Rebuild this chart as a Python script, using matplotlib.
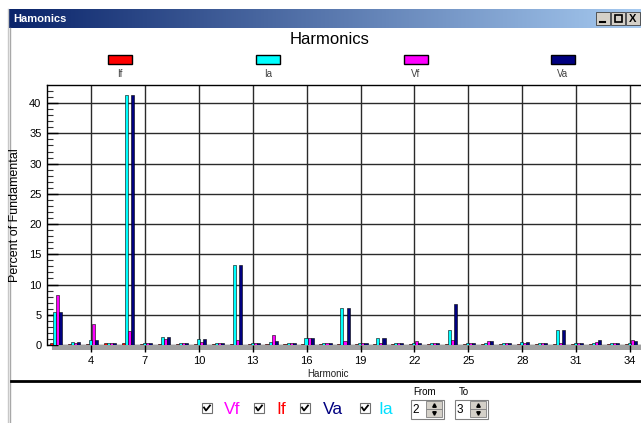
import numpy as np
import matplotlib
matplotlib.use("Agg")
import matplotlib.pyplot as plt
from matplotlib.patches import Rectangle

plt.rcParams['font.family'] = ['Liberation Sans', 'DejaVu Sans']

harmonics = list(range(2, 35))
series_names = ["If", "Ia", "Vf", "Va"]
series_colors = ["#FF0000", "#00FFFF", "#FF00FF", "#000080"]
if_vals = [0.4, 0.2, 0.2, 0.25, 0.3, 0.2, 0.2, 0.2, 0.2, 0.2, 0.2, 0.2, 0.2, 0.2, 0.2, 0.2, 0.2,
           0.2, 0.2, 0.2, 0.2, 0.2, 0.2, 0.2, 0.2, 0.2, 0.2, 0.2, 0.2, 0.2, 0.2, 0.2, 0.2]
ia_vals = [5.5, 0.5, 0.8, 0.3, 41.3, 0.3, 1.3, 0.3, 1.0, 0.3, 13.3, 0.3, 0.5, 0.3, 1.15, 0.3, 6.2,
           0.3, 1.1, 0.3, 0.3, 0.3, 2.5, 0.3, 0.4, 0.3, 0.5, 0.3, 2.4, 0.3, 0.4, 0.3, 0.3]
vf_vals = [8.2, 0.3, 3.4, 0.3, 2.3, 0.3, 0.95, 0.3, 0.45, 0.3, 0.8, 0.3, 1.65, 0.3, 1.15, 0.3, 0.65,
           0.3, 0.4, 0.3, 0.65, 0.3, 0.8, 0.3, 0.65, 0.3, 0.3, 0.3, 0.3, 0.3, 0.5, 0.3, 0.8]
va_vals = [5.5, 0.5, 0.8, 0.3, 41.3, 0.3, 1.4, 0.3, 1.0, 0.3, 13.3, 0.3, 0.7, 0.3, 1.15, 0.3, 6.2,
           0.3, 1.15, 0.3, 0.35, 0.3, 6.7, 0.3, 0.65, 0.3, 0.5, 0.3, 2.4, 0.3, 0.8, 0.3, 0.7]
x_ticks = [4, 7, 10, 13, 16, 19, 22, 25, 28, 31, 34]
y_ticks = [0, 5, 10, 15, 20, 25, 30, 35, 40]

W, H = 641, 423
fig = plt.figure(figsize=(W / 100, H / 100), dpi=100)

# overlay axes in pixel coordinates for window chrome
ov = fig.add_axes([0, 0, 1, 1], zorder=0)
ov.set_xlim(0, W)
ov.set_ylim(H, 0)
ov.axis('off')

# title bar gradient
grad = np.linspace(0, 1, 256)
c0 = np.array([10, 36, 106]) / 255
c1 = np.array([166, 202, 240]) / 255
img = (c0[None, :] * (1 - grad[:, None]) + c1[None, :] * grad[:, None])[None, :, :]
ov.imshow(img, extent=[9, W, 28, 9], aspect='auto', zorder=1)
ov.text(13, 18.5, "Hamonics", color='white', fontsize=8, fontweight='bold', va='center', ha='left', zorder=2)
# title bar buttons
for bx in [596, 611, 626]:
    ov.add_patch(Rectangle((bx, 12), 14, 13, facecolor='#D4D0C8', edgecolor='#404040', lw=0.6, zorder=2))
ov.plot([600, 605], [22, 22], color='black', lw=1.5, zorder=3)
ov.add_patch(Rectangle((614.5, 15), 7, 7, facecolor='none', edgecolor='black', lw=1.2, zorder=3))
ov.text(633, 18.5, "X", fontsize=8, fontweight='bold', ha='center', va='center', zorder=3)
# left border (thin light lines)
ov.plot([8, 8], [9, H], color='#C8C8C8', lw=1, zorder=2)
ov.plot([10, 10], [28, H], color='#A8A8A8', lw=1, zorder=2)

# chart title
ov.text(330, 40, "Harmonics", fontsize=12, ha='center', va='center', color='black', zorder=2)
# legend
leg_x = [120, 268, 416, 563]
for lx, name, col in zip(leg_x, series_names, series_colors):
    ov.add_patch(Rectangle((lx - 12, 55), 24, 9, facecolor=col, edgecolor='black', lw=1.0, zorder=2))
    ov.text(lx, 74, name, fontsize=7, ha='center', va='center', color='#404040', zorder=2)

# floor strip under bars
ov.add_patch(Rectangle((52, 345.5), W - 52, 4.5, facecolor='#A0A0A0', edgecolor='none', zorder=1))

# x label
ov.text(328, 374, "Harmonic", fontsize=7, ha='center', va='center', color='#202020', zorder=2)
# separator line
ov.plot([11, W], [381.5, 381.5], color='black', lw=2, zorder=2)

# checkboxes row
def checkbox(cx, cy):
    ov.add_patch(Rectangle((cx - 5, cy - 5), 10, 10, facecolor='white', edgecolor='#707070', lw=0.8, zorder=2))
    ov.plot([cx - 3, cx - 1, cx + 3], [cy - 0.5, cy + 2.5, cy - 2.5], color='black', lw=1.3, zorder=3)

for cbx, lbl, lx, col in [(207, "Vf", 232, "#FF00FF"), (259, "If", 281, "#FF0000"),
                          (305, "Va", 333, "#000080"), (365, "Ia", 386, "#00E0FF")]:
    checkbox(cbx, 408)
    ov.text(lx, 409, lbl, fontsize=12.5, ha='center', va='center', color=col, zorder=2)

ov.text(425, 392, "From", fontsize=7, ha='center', va='center', zorder=2)
ov.text(464, 392, "To", fontsize=7, ha='center', va='center', zorder=2)
for sx, val in [(411, "2"), (455, "3")]:
    ov.add_patch(Rectangle((sx, 400), 33, 19, facecolor='white', edgecolor='#808080', lw=0.8, zorder=2))
    ov.text(sx + 5, 410, val, fontsize=8.5, ha='center', va='center', zorder=3)
    ov.add_patch(Rectangle((sx + 15, 401.5), 16, 8, facecolor='#D4D0C8', edgecolor='#808080', lw=0.6, zorder=3))
    ov.add_patch(Rectangle((sx + 15, 409.5), 16, 8, facecolor='#D4D0C8', edgecolor='#808080', lw=0.6, zorder=3))
    ov.plot([sx + 23], [405.5], marker='^', ms=2.5, color='black', zorder=4)
    ov.plot([sx + 23], [413.5], marker='v', ms=2.5, color='black', zorder=4)

# chart axes
left, right, top, bottom = 47, 641, 85, 345
ax = fig.add_axes([left / W, (H - bottom) / H, (right - left) / W, (bottom - top) / H], zorder=5)
ax.set_xlim(1.55, 34.61)
ax.set_ylim(0, 43.0)

w = 0.17
offsets = [-1.5 * w, -0.5 * w, 0.5 * w, 1.5 * w]
hx = np.array(harmonics, dtype=float) + 0.05
for vals, col, off in zip([if_vals, ia_vals, vf_vals, va_vals], series_colors, offsets):
    ax.bar(hx + off, vals, width=w, color=col, edgecolor='black', linewidth=0.4, zorder=3)

ax.set_xticks(x_ticks)
ax.set_yticks(y_ticks)
ax.set_yticks(np.arange(0, 43, 1), minor=True)
ax.tick_params(axis='y', which='major', direction='in', length=8, width=1, labelsize=8, pad=4, color='black')
ax.tick_params(axis='y', which='minor', direction='in', length=4, width=0.8, color='#333333')
ax.tick_params(axis='x', which='major', direction='out', length=5, width=1, labelsize=8, pad=3)
ax.grid(True, which='major', color='#2a2a2a', linewidth=1.0, zorder=1)
ax.set_axisbelow(True)
for side in ['left', 'top']:
    ax.spines[side].set_color('black')
    ax.spines[side].set_linewidth(1)
ax.spines['right'].set_visible(False)
ax.spines['bottom'].set_visible(False)
ax.set_ylabel("Percent of Fundamental", fontsize=9, labelpad=6)

fig.savefig("out.png", dpi=100)
